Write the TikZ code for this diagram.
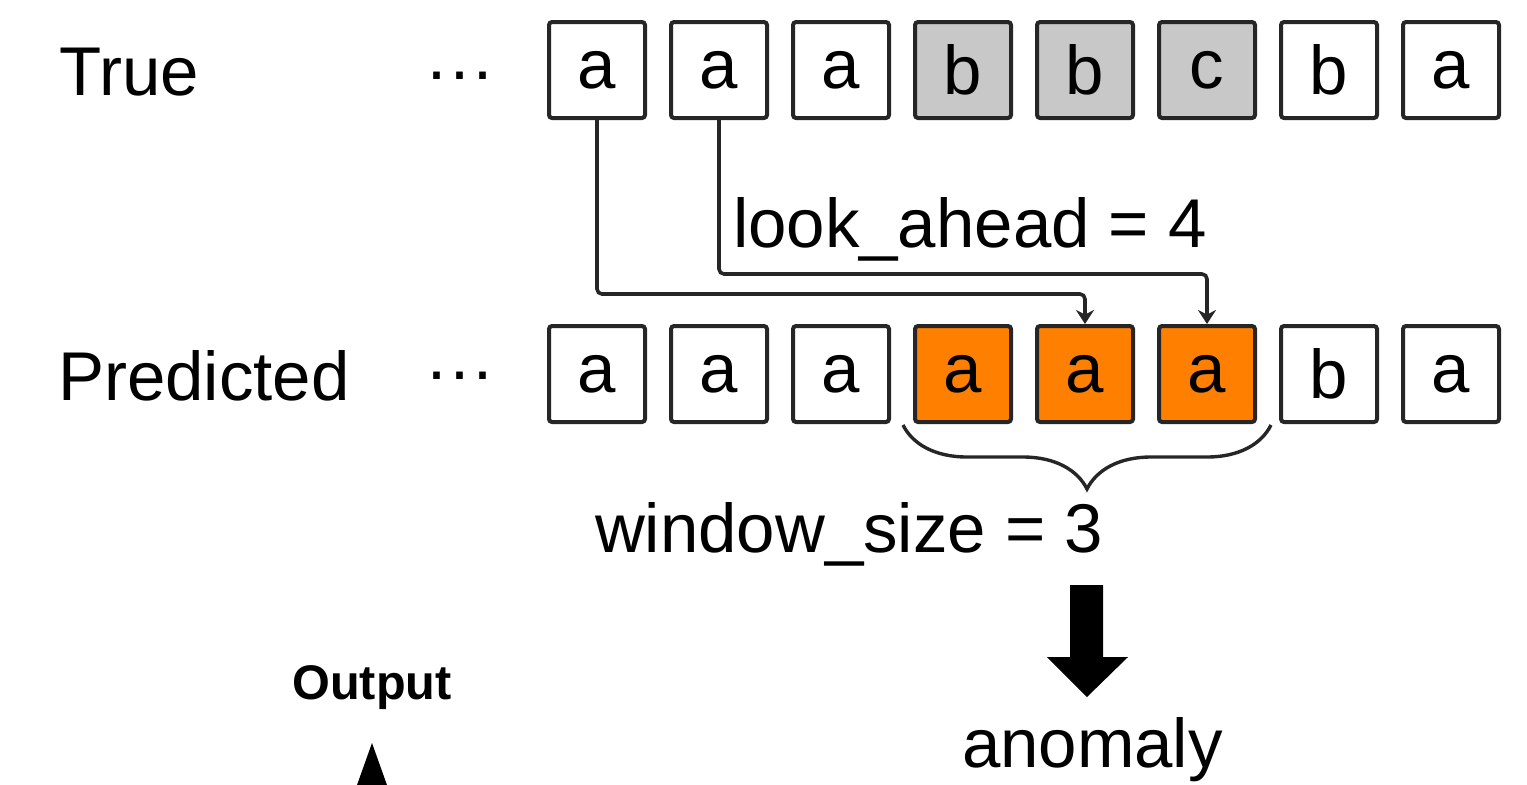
\documentclass[tikz,border=0pt]{standalone}
\usepackage{fontspec}
\setmainfont{Liberation Sans}
\usetikzlibrary{decorations.pathreplacing,arrows.meta}
\definecolor{boxline}{HTML}{262626}
\definecolor{grayfill}{HTML}{C8C8C8}
\definecolor{orangefill}{HTML}{FF8000}
\begin{document}
\begin{tikzpicture}[x=0.5pt,y=-0.5pt,
  txt/.style={inner sep=0pt,outer sep=0pt,font=\fontsize{34.5}{40}\selectfont},
  cell/.style={draw=boxline,line width=2pt,rounded corners=1.5pt,minimum width=48pt,minimum height=48pt,inner sep=0pt,font=\fontsize{34.5}{40}\selectfont,fill=white},
  grey/.style={cell,fill=grayfill},
  hot/.style={cell,fill=orangefill},
  conn/.style={draw=boxline,line width=1.8pt,rounded corners=2.5pt,-{Stealth[length=7pt,width=9pt]}}]
\useasboundingbox (0,0) rectangle (1527,784);
% row labels
\node[txt,anchor=base west] (ltrue) at (60,95) {True};
\node[txt,anchor=base west] (lpred) at (58,400) {Predicted};
\node[txt] (dtrue) at (460,83) {···};
\node[txt] (dpred) at (460,383) {···};
% true row
\node[cell] (t1) at (597,70) {a};
\node[cell] (t2) at (719,70) {a};
\node[cell] (t3) at (841,70) {a};
\node[grey] (t4) at (963,70) {b};
\node[grey] (t5) at (1085,70) {b};
\node[grey] (t6) at (1207,70) {c};
\node[cell] (t7) at (1329,70) {b};
\node[cell] (t8) at (1451,70) {a};
% predicted row
\node[cell] (p1) at (597,374) {a};
\node[cell] (p2) at (719,374) {a};
\node[cell] (p3) at (841,374) {a};
\node[hot] (p4) at (963,374) {a};
\node[hot] (p5) at (1085,374) {a};
\node[hot] (p6) at (1207,374) {a};
\node[cell] (p7) at (1329,374) {b};
\node[cell] (p8) at (1451,374) {a};
% connectors
\coordinate (h1) at (0,294);
\coordinate (h2) at (0,274);
\draw[conn] (t1.south) |- (h1 -| p5.north) -- (p5.north);
\draw[conn] (t2.south) |- (h2 -| p6.north) -- (p6.north);
\node[txt,anchor=base west] (look) at (733,247) {look\_ahead = 4};
% brace
\coordinate (b1) at (903,425);
\coordinate (b2) at (1271,425);
\draw[boxline,line width=1.7pt,decorate,decoration={brace,mirror,amplitude=32pt}] (b1) -- (b2);
\node[txt,anchor=base west] (win) at (595,552) {window\_size = 3};
% thick arrow
\fill[black] (1070,585) -- (1103,585) -- (1103,657) -- (1128,657) -- (1087,697) -- (1047,657) -- (1070,657) -- cycle;
\node[txt,anchor=base west] (anom) at (962,767) {anomaly};
% output
\node[inner sep=0pt,font=\fontsize{24.3}{28}\selectfont\bfseries] (out) at (372,688) {Output};
\fill[black] (372,743) -- (387,785) -- (357,785) -- cycle;
\end{tikzpicture}
\end{document}
